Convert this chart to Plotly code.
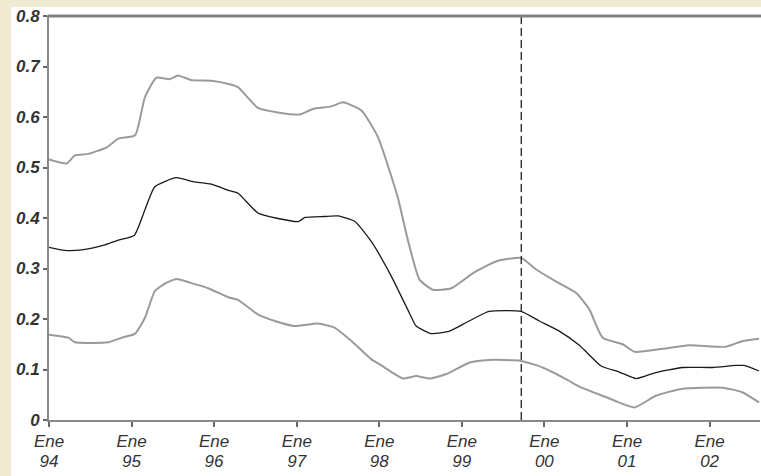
import plotly.graph_objects as go

# ---- data ----
upper_dates = ["1994-01-01", "1994-03-20", "1994-04-26", "1994-06-24", "1994-09-14", "1994-11-04",
               "1995-01-17", "1995-03-01", "1995-04-21", "1995-06-19", "1995-07-25", "1995-09-23",
               "1995-12-20", "1996-03-10", "1996-04-16", "1996-07-13", "1996-10-10", "1997-01-15",
               "1997-03-13", "1997-06-03", "1997-07-24", "1997-10-14", "1997-12-26", "1998-03-23",
               "1998-05-07", "1998-06-28", "1998-08-26", "1998-11-16", "1999-02-20", "1999-06-01",
               "1999-09-20", "1999-11-26", "2000-02-23", "2000-05-20", "2000-07-18", "2000-09-15",
               "2000-12-13", "2001-02-03", "2001-06-07", "2001-10-03", "2002-03-13", "2002-05-25",
               "2002-08-08"]
upper_vals = [0.516, 0.508, 0.524, 0.527, 0.540, 0.557,
              0.564, 0.639, 0.678, 0.675, 0.682, 0.673,
              0.672, 0.665, 0.659, 0.618, 0.609, 0.605,
              0.616, 0.621, 0.629, 0.613, 0.560, 0.442,
              0.357, 0.278, 0.258, 0.261, 0.291, 0.314,
              0.321, 0.298, 0.274, 0.252, 0.219, 0.163,
              0.150, 0.135, 0.141, 0.148, 0.145, 0.156,
              0.161]

mid_dates = ["1994-01-01", "1994-03-12", "1994-05-25", "1994-09-06", "1994-11-11", "1995-01-14",
             "1995-03-01", "1995-04-14", "1995-07-18", "1995-10-01", "1995-12-20", "1996-03-10",
             "1996-04-16", "1996-07-13", "1996-10-10", "1997-01-08", "1997-02-07", "1997-05-04",
             "1997-07-02", "1997-09-15", "1997-11-27", "1998-02-24", "1998-05-14", "1998-06-13",
             "1998-08-19", "1998-11-08", "1999-01-21", "1999-05-02", "1999-09-20", "1999-12-10",
             "2000-03-07", "2000-06-04", "2000-09-08", "2000-11-28", "2001-02-11", "2001-05-08",
             "2001-09-03", "2002-01-14", "2002-04-26", "2002-06-02", "2002-08-08"]
mid_vals = [0.342, 0.336, 0.337, 0.347, 0.357, 0.366,
            0.416, 0.462, 0.480, 0.472, 0.467, 0.454,
            0.449, 0.410, 0.399, 0.393, 0.401, 0.403,
            0.404, 0.393, 0.353, 0.284, 0.212, 0.186,
            0.171, 0.176, 0.193, 0.215, 0.215, 0.196,
            0.176, 0.148, 0.107, 0.095, 0.082, 0.094,
            0.104, 0.104, 0.108, 0.108, 0.097]

lower_dates = ["1994-01-01", "1994-03-27", "1994-04-26", "1994-09-21", "1994-11-19", "1995-01-17",
               "1995-03-01", "1995-04-14", "1995-06-01", "1995-07-18", "1995-09-23", "1995-12-06",
               "1996-03-10", "1996-04-16", "1996-07-13", "1996-09-26", "1996-12-23", "1997-04-05",
               "1997-06-17", "1997-09-01", "1997-11-27", "1998-01-03", "1998-02-24", "1998-04-15",
               "1998-06-13", "1998-08-11", "1998-10-24", "1999-02-05", "1999-05-02", "1999-09-20",
               "1999-12-24", "2000-04-06", "2000-06-04", "2000-10-01", "2001-02-03", "2001-05-08",
               "2001-09-03", "2002-02-28", "2002-05-25", "2002-08-08"]
lower_vals = [0.169, 0.163, 0.154, 0.154, 0.163, 0.171,
              0.202, 0.255, 0.271, 0.279, 0.271, 0.261,
              0.242, 0.238, 0.209, 0.196, 0.186, 0.191,
              0.183, 0.156, 0.120, 0.110, 0.095, 0.082,
              0.087, 0.082, 0.091, 0.114, 0.119, 0.117,
              0.104, 0.081, 0.066, 0.045, 0.025, 0.048,
              0.062, 0.064, 0.055, 0.035]

break_date = "1999-09-21"

x_tick_dates = ["1994-01-01", "1995-01-01", "1996-01-01", "1997-01-01", "1998-01-01",
                "1999-01-01", "2000-01-01", "2001-01-01", "2002-01-01"]
x_tick_months = ["Ene"] * 9
x_tick_years = ["94", "95", "96", "97", "98", "99", "00", "01", "02"]
y_tick_vals = [0, 0.1, 0.2, 0.3, 0.4, 0.5, 0.6, 0.7, 0.8]
y_tick_labels = ["0", "0.1", "0.2", "0.3", "0.4", "0.5", "0.6", "0.7", "0.8"]

# ---- figure ----
W, H = 761, 476
ML, MR, MT, MB = 49, 1, 16, 56
pw, ph = W - ML - MR, H - MT - MB

GRAY = "#9a9a9a"
fig = go.Figure()
fig.add_trace(go.Scatter(x=upper_dates, y=upper_vals, mode="lines",
                         line=dict(color=GRAY, width=2, shape="spline", smoothing=0.5),
                         showlegend=False, hoverinfo="skip"))
fig.add_trace(go.Scatter(x=lower_dates, y=lower_vals, mode="lines",
                         line=dict(color=GRAY, width=2, shape="spline", smoothing=0.5),
                         showlegend=False, hoverinfo="skip"))
fig.add_trace(go.Scatter(x=mid_dates, y=mid_vals, mode="lines",
                         line=dict(color="#1a1a1a", width=1.3, shape="spline", smoothing=0.5),
                         showlegend=False, hoverinfo="skip"))
# invisible trace to carry the year-label axis
fig.add_trace(go.Scatter(x=[x_tick_dates[0]], y=[None], xaxis="x2", mode="lines",
                         showlegend=False, hoverinfo="skip"))

# dashed vertical marker
fig.add_shape(type="line", xref="x", yref="y", x0=break_date, x1=break_date, y0=0, y1=0.8,
              line=dict(color="#222222", width=1.3, dash="8px,4px"))

# white page area over beige strips
fig.add_shape(type="rect", xref="paper", yref="paper", layer="below",
              x0=(11 - ML) / pw, x1=1.05, y0=-0.3, y1=(H - MB - 7) / ph,
              fillcolor="white", line=dict(width=0))
# top frame line
fig.add_shape(type="line", xref="paper", yref="paper", x0=-1.5 / pw, x1=1.01, y0=1, y1=1,
              line=dict(color="#808080", width=3))

FONT = "Liberation Sans Narrow, Arial Narrow, Liberation Sans, Arial"
xfont = dict(family=FONT, size=17, color="#333", style="italic")
fig.update_layout(
    width=W, height=H,
    margin=dict(l=ML, r=MR, t=MT, b=MB, pad=0),
    paper_bgcolor="#F1EAD2",
    plot_bgcolor="white",
    showlegend=False,
    xaxis=dict(type="date", range=["1994-01-01", "2002-08-12"],
               tickmode="array", tickvals=x_tick_dates, ticktext=x_tick_months,
               ticks="outside", ticklen=5, tickwidth=2, tickcolor="#666",
               showline=True, linecolor="#888", linewidth=2,
               showgrid=False, zeroline=False, tickfont=xfont),
    xaxis2=dict(type="date", matches="x", overlaying="x", anchor="y", side="bottom",
                tickmode="array", tickvals=x_tick_dates, ticktext=x_tick_years,
                ticks="outside", ticklen=5, tickcolor="rgba(0,0,0,0)",
                ticklabelstandoff=21,
                showline=False, showgrid=False, zeroline=False, tickfont=xfont),
    yaxis=dict(range=[0, 0.8], tickmode="array", tickvals=y_tick_vals, ticktext=y_tick_labels,
               ticks="outside", ticklen=4, tickwidth=2, tickcolor="#666",
               showline=True, linecolor="#888", linewidth=2,
               showgrid=False, zeroline=False,
               tickfont=dict(family=FONT, size=17, color="#333", style="italic", weight="bold")),
)

fig.write_html("out.html", config={"displayModeBar": False},
               post_script="document.body.style.margin='0';document.body.style.overflow='hidden';")
